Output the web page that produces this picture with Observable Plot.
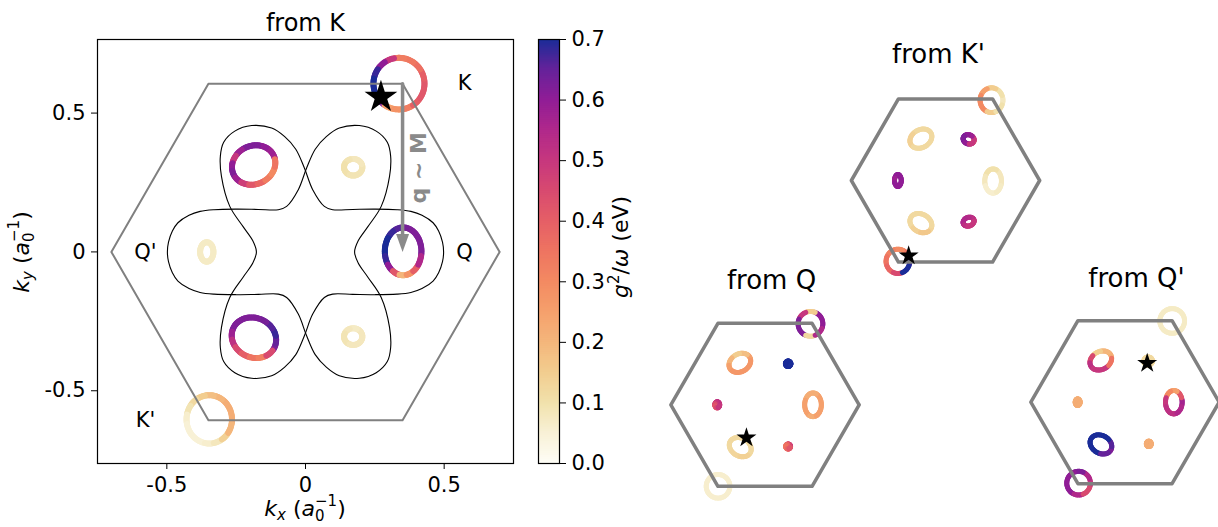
<!DOCTYPE html>
<html><head><meta charset="utf-8">
<script src="https://cdn.jsdelivr.net/npm/d3@7"></script>
<script src="https://cdn.jsdelivr.net/npm/@observablehq/plot@0.6"></script>
<style>
body{margin:0;background:#fff;}
#fig{position:relative;width:1218px;height:527px;overflow:hidden;font-family:"DejaVu Sans",sans-serif;}
#fig svg{position:absolute;}
</style></head><body><div id="fig"></div>
<script>
// ---------------- data ----------------
const hsPoints = [
  {name: "K", kx: 0.35, ky: 0.606},
  {name: "Q", kx: 0.35, ky: 0},
  {name: "Q'", kx: -0.35, ky: 0},
  {name: "K'", kx: -0.35, ky: -0.606}
];
const bzCorners = [
  {kx: 0.7, ky: 0}, {kx: 0.35, ky: 0.606}, {kx: -0.35, ky: 0.606},
  {kx: -0.7, ky: 0}, {kx: -0.35, ky: -0.606}, {kx: 0.35, ky: -0.606}, {kx: 0.7, ky: 0}
];
const axisTicks = [-0.5, 0, 0.5];
const colorTicks = [0, 0.1, 0.2, 0.3, 0.4, 0.5, 0.6, 0.7];
const arrowPath = [{from: "K", to: "Q"}];
// upper half of one three-lobed contour
const petalX = [0.498,0.494,0.48,0.46,0.42,0.38,0.33,0.25,0.17,0.098,0.068,0.026,-0.004,-0.035,-0.075,-0.122,-0.194,-0.255,-0.295,-0.307,-0.303,-0.273,-0.225,-0.19,-0.177];
const petalY = [0,0.035,0.075,0.105,0.132,0.146,0.152,0.154,0.153,0.152,0.164,0.224,0.302,0.37,0.415,0.446,0.455,0.435,0.395,0.345,0.272,0.164,0.091,0.04,0];

// rings: centre, semi-axes, tilt (deg), coupling values g^2/w at equal angles (ccw from +kx)
const ringsFromK = [
  {cx: 0.337, cy: 0.606, rx: 0.092, ry: 0.093, rot: 0, vals: [0.42,0.40,0.36,0.34,0.33,0.50,0.60,0.68,0.70,0.70,0.62,0.25,0.28,0.33,0.40,0.42]},
  {cx: -0.187, cy: 0.313, rx: 0.080, ry: 0.069, rot: 25, vals: [0.57,0.58,0.60,0.62,0.62,0.58,0.50,0.60,0.62,0.58,0.48,0.42,0.38,0.33,0.30,0.35]},
  {cx: -0.186, cy: -0.309, rx: 0.082, ry: 0.071, rot: -25, vals: [0.62,0.65,0.68,0.66,0.63,0.62,0.62,0.62,0.62,0.58,0.52,0.45,0.40,0.35,0.32,0.45]},
  {cx: 0.352, cy: 0.002, rx: 0.066, ry: 0.086, rot: 0, vals: [0.62,0.62,0.62,0.62,0.63,0.66,0.68,0.70,0.70,0.68,0.60,0.42,0.20,0.28,0.40,0.55]},
  {cx: 0.172, cy: 0.305, rx: 0.033, ry: 0.030, rot: 0, vals: [0.09,0.08,0.08,0.09,0.10,0.10,0.09,0.09]},
  {cx: 0.172, cy: -0.305, rx: 0.033, ry: 0.030, rot: 0, vals: [0.08,0.08,0.07,0.08,0.09,0.09,0.08,0.08]},
  {cx: -0.356, cy: 0, rx: 0.024, ry: 0.035, rot: 0, vals: [0.07,0.07,0.07,0.07,0.07,0.07,0.07,0.07]},
  {cx: -0.347, cy: -0.603, rx: 0.082, ry: 0.087, rot: 0, vals: [0.22,0.22,0.22,0.20,0.18,0.15,0.12,0.09,0.06,0.05,0.05,0.05,0.06,0.08,0.14,0.20]}
];
const ringsFromKp = [
  {cx: 0.342, cy: 0.597, rx: 0.085, ry: 0.092, rot: 0, vals: [0.08,0.10,0.15,0.25,0.30,0.30,0.15,0.10]},
  {cx: -0.183, cy: 0.311, rx: 0.086, ry: 0.066, rot: 30, vals: [0.12,0.12,0.12,0.14,0.14,0.12,0.12,0.12]},
  {cx: 0.172, cy: 0.306, rx: 0.042, ry: 0.034, rot: -20, vals: [0.45,0.50,0.58,0.60,0.62,0.62,0.60,0.50]},
  {cx: -0.354, cy: 0, rx: 0.025, ry: 0.044, rot: 0, vals: [0.60,0.60,0.60,0.60,0.58,0.60,0.60,0.60]},
  {cx: 0.354, cy: -0.004, rx: 0.062, ry: 0.09, rot: 0, vals: [0.08,0.08,0.10,0.10,0.08,0.06,0.06,0.07]},
  {cx: -0.183, cy: -0.317, rx: 0.086, ry: 0.066, rot: -30, vals: [0.13,0.12,0.12,0.12,0.12,0.12,0.14,0.16]},
  {cx: 0.172, cy: -0.306, rx: 0.042, ry: 0.032, rot: 20, vals: [0.50,0.52,0.54,0.55,0.55,0.52,0.50,0.50]},
  {cx: -0.354, cy: -0.601, rx: 0.088, ry: 0.09, rot: 0, vals: [0.68,0.35,0.30,0.32,0.35,0.38,0.45,0.70]}
];
const ringsFromQ = [
  {cx: 0.338, cy: 0.602, rx: 0.092, ry: 0.092, rot: 0, vals: [0.60,0.60,0.15,0.50,0.62,0.62,0.12,0.55]},
  {cx: -0.187, cy: 0.312, rx: 0.085, ry: 0.066, rot: 30, vals: [0.25,0.18,0.15,0.20,0.25,0.27,0.27,0.27]},
  {cx: 0.172, cy: 0.305, rx: 0.02, ry: 0.02, rot: 0, vals: [0.70,0.70,0.70,0.70,0.70,0.70,0.70,0.70]},
  {cx: -0.355, cy: 0, rx: 0.018, ry: 0.022, rot: 0, vals: [0.50,0.50,0.52,0.50,0.45,0.42,0.45,0.50]},
  {cx: 0.357, cy: 0, rx: 0.062, ry: 0.088, rot: 0, vals: [0.25,0.25,0.22,0.22,0.25,0.25,0.22,0.25]},
  {cx: -0.184, cy: -0.315, rx: 0.086, ry: 0.066, rot: -30, vals: [0.12,0.12,0.12,0.12,0.12,0.12,0.13,0.14]},
  {cx: 0.172, cy: -0.31, rx: 0.018, ry: 0.018, rot: 0, vals: [0.45,0.48,0.45,0.38,0.35,0.35,0.38,0.42]},
  {cx: -0.349, cy: -0.606, rx: 0.088, ry: 0.088, rot: 0, vals: [0.06,0.06,0.06,0.06,0.06,0.06,0.06,0.06]}
];
const ringsFromQp = [
  {cx: 0.351, cy: 0.604, rx: 0.092, ry: 0.092, rot: 0, vals: [0.07,0.07,0.07,0.07,0.07,0.07,0.07,0.07]},
  {cx: -0.18, cy: 0.31, rx: 0.085, ry: 0.066, rot: 30, vals: [0.22,0.20,0.15,0.45,0.52,0.50,0.50,0.35]},
  {cx: 0.172, cy: 0.306, rx: 0.032, ry: 0.03, rot: 0, vals: [0.12,0.12,0.12,0.12,0.12,0.12,0.12,0.12]},
  {cx: -0.352, cy: 0, rx: 0.018, ry: 0.024, rot: 0, vals: [0.22,0.22,0.22,0.22,0.22,0.22,0.22,0.22]},
  {cx: 0.363, cy: 0, rx: 0.062, ry: 0.087, rot: 0, vals: [0.57,0.42,0.25,0.30,0.50,0.52,0.52,0.55]},
  {cx: -0.179, cy: -0.314, rx: 0.085, ry: 0.066, rot: -30, vals: [0.62,0.66,0.70,0.70,0.70,0.70,0.70,0.65]},
  {cx: 0.177, cy: -0.31, rx: 0.018, ry: 0.02, rot: 0, vals: [0.22,0.22,0.22,0.22,0.22,0.22,0.22,0.22]},
  {cx: -0.345, cy: -0.602, rx: 0.088, ry: 0.088, rot: 0, vals: [0.50,0.55,0.62,0.60,0.60,0.60,0.55,0.45]}
];
const starsFromK = [{kx: 0.272, ky: 0.558}];
const starsFromKp = [{kx: -0.274, ky: -0.56}];
const starsFromQ = [{kx: -0.138, ky: -0.245}];
const starsFromQp = [{kx: 0.165, ky: 0.29}];

// ---------------- styles ----------------
const colorStopValues = [0,0.05,0.1,0.15,0.2,0.25,0.3,0.35,0.4,0.45,0.5,0.55,0.6,0.65,0.7];
const colorStopColors = ["#fefdf6","#f8f1d6","#f1e1ac","#f2cd8f","#f4b67b","#f5a06c","#f38a62","#ee7461","#e55f66","#d84a70","#c6377e","#b0288b","#901d96","#65229a","#1a2c98"];
const colorOpts = {type: "linear", domain: colorStopValues, range: colorStopColors, interpolate: "rgb", clamp: true};
const FONT = "DejaVu Sans";
const baseStyle = {fontFamily: FONT, fontSize: "21px", background: "transparent", overflow: "visible", color: "black"};

// ---------------- helpers ----------------
const ptByName = Object.fromEntries(hsPoints.map(d => [d.name, d]));
function ringSegments(rings, sub) {
  const segs = [];
  rings.forEach(r => {
    const n = r.vals.length, rot = r.rot * Math.PI / 180;
    const pt = t => {
      const a = 2 * Math.PI * t / n;
      const ex = r.rx * Math.cos(a), ey = r.ry * Math.sin(a);
      return [r.cx + ex * Math.cos(rot) - ey * Math.sin(rot), r.cy + ex * Math.sin(rot) + ey * Math.cos(rot)];
    };
    for (let i = 0; i < n; i++) for (let s = 0; s < sub; s++) {
      const p = pt(i - 0.5 + s / sub), q = pt(i - 0.5 + (s + 1) / sub);
      segs.push({x1: p[0], y1: p[1], x2: q[0], y2: q[1], v: r.vals[i]});
    }
  });
  return segs;
}
const petals = [];
{
  const half = petalX.map((x, i) => [x, petalY[i]]);
  const full = half.concat(half.slice(1, -1).reverse().map(([x, y]) => [x, -y]));
  full.forEach(([x, y]) => petals.push({id: "A", x, y}));
  full.forEach(([x, y]) => petals.push({id: "B", x: -x, y}));
}
const arrowData = arrowPath.map(d => ({x1: ptByName[d.from].kx, y1: ptByName[d.from].ky, x2: ptByName[d.to].kx, y2: ptByName[d.to].ky}));
const headSymbol = {draw(ctx) { ctx.moveTo(0, 0); ctx.lineTo(-6.5, -18); ctx.lineTo(6.5, -18); ctx.closePath(); }};

function richText(svg, x, y, parts, rotate = 0, fontSize = 22) {
  const t = d3.select(svg).append("text")
    .attr("transform", `translate(${x},${y}) rotate(${rotate})`)
    .attr("text-anchor", "middle").attr("font-family", FONT).attr("font-size", fontSize).attr("fill", "black");
  for (const p of parts) {
    const ts = t.append("tspan").text(p.t);
    if (p.it) ts.attr("font-style", "italic");
    if (p.size) ts.attr("font-size", p.size);
    if (p.dy) ts.attr("dy", p.dy);
    if (p.dx) ts.attr("dx", p.dx);
  }
}
const fig = document.getElementById("fig");
function place(svg, left, top) { svg.style.left = left + "px"; svg.style.top = top + "px"; fig.appendChild(svg); }

// ---------------- main panel ----------------
const fmtTick = d => d === 0 ? "0" : String(d);
const main = Plot.plot({
  width: 530, height: 527,
  marginLeft: 97, marginRight: 17, marginTop: 39, marginBottom: 64,
  x: {domain: [-0.75, 0.75]},
  y: {domain: [-0.762, 0.765]},
  color: colorOpts,
  style: baseStyle,
  marks: [
    Plot.axisX({ticks: axisTicks, tickFormat: fmtTick, tickSize: 6, tickPadding: 8, fontSize: 21, label: null}),
    Plot.axisY({ticks: axisTicks, tickFormat: fmtTick, tickSize: 6, tickPadding: 6, fontSize: 21, label: null}),
    Plot.link(ringSegments(ringsFromK, 4), {x1: "x1", y1: "y1", x2: "x2", y2: "y2", stroke: "v", strokeWidth: 6, strokeLinecap: "round"}),
    Plot.line(bzCorners, {x: "kx", y: "ky", stroke: "#808080", strokeWidth: 2}),
    Plot.line(petals, {x: "x", y: "y", z: "id", curve: "catmull-rom-closed", stroke: "black", strokeWidth: 1.1}),
    Plot.arrow(arrowData, {x1: "x1", y1: "y1", x2: "x2", y2: "y2", stroke: "#8a8a8a", strokeWidth: 3.5, headLength: 0, insetEnd: 14}),
    Plot.dot(arrowData, {x: "x2", y: "y2", symbol: headSymbol, fill: "#8a8a8a", stroke: null}),
    Plot.text(arrowData, {x: "x1", y: d => (d.y1 + d.y2) / 2, text: () => "q ~ M", rotate: -90, dx: 16, fill: "#8a8a8a", fontWeight: "bold", fontSize: 22}),
    Plot.dot(starsFromK, {x: "kx", y: "ky", symbol: "star", r: 10.3, fill: "black", stroke: null}),
    Plot.text(hsPoints.filter(d => d.kx > 0), {x: "kx", y: "ky", text: "name", dx: 62, fontSize: 21}),
    Plot.text(hsPoints.filter(d => d.kx < 0), {x: "kx", y: "ky", text: "name", dx: -63, fontSize: 21}),
    Plot.text(["from K"], {text: d => d, frameAnchor: "top", textAnchor: "middle", lineAnchor: "bottom", dy: -9, fontSize: 24}),
    Plot.frame({stroke: "black", strokeWidth: 1.2})
  ]
});
richText(main, 305, 516, [{t: "k", it: 1}, {t: "x", it: 1, size: 15, dy: 4}, {t: " (", dy: -4}, {t: "a", it: 1}, {t: "0", size: 15, dy: 5}, {t: "−1", size: 15, dx: -9.5, dy: -15}, {t: ")", dy: 10}]);
richText(main, 29, 252, [{t: "k", it: 1}, {t: "y", it: 1, size: 15, dy: 4}, {t: " (", dy: -4}, {t: "a", it: 1}, {t: "0", size: 15, dy: 5}, {t: "−1", size: 15, dx: -9.5, dy: -15}, {t: ")", dy: 10}], -90);
place(main, 0, 0);

// ---------------- colour bar ----------------
const N = 210;
const cMin = colorTicks[0], cMax = colorTicks[colorTicks.length - 1];
const step = (cMax - cMin) / N;
const barCells = d3.range(N).map(i => ({y1: cMin + i * step}));
const cbar = Plot.plot({
  width: 160, height: 527,
  marginLeft: 18, marginRight: 121, marginTop: 39, marginBottom: 64,
  x: {domain: [0, 1], axis: null},
  y: {domain: [cMin, cMax], axis: null},
  color: colorOpts,
  style: baseStyle,
  marks: [
    Plot.rect(barCells, {x1: 0, x2: 1, y1: "y1", y2: d => Math.min(cMax, d.y1 + step * 1.6), fill: d => d.y1 + step / 2}),
    Plot.axisY({anchor: "right", ticks: colorTicks, tickFormat: d3.format(".1f"), tickSize: 6, tickPadding: 6, fontSize: 21, label: null}),
    Plot.frame({stroke: "black", strokeWidth: 1.2})
  ]
});
richText(cbar, 108, 247, [{t: "g", it: 1}, {t: "2", size: 15, dy: -9}, {t: "/", dy: 9}, {t: "ω", it: 1}, {t: " (eV)"}], -90);
place(cbar, 520, 0);

// ---------------- insets ----------------
function inset({rings, stars, title, left, top, width, height, cx, cy, tx, ty}) {
  const k = 134.5;
  const svg = Plot.plot({
    width, height, margin: 0,
    x: {domain: [-cx / k, (width - cx) / k], range: [0, width], axis: null},
    y: {domain: [-(height - cy) / k, cy / k], range: [height, 0], axis: null},
    color: colorOpts,
    style: baseStyle,
    marks: [
      Plot.link(ringSegments(rings, 5), {x1: "x1", y1: "y1", x2: "x2", y2: "y2", stroke: "v", strokeWidth: 5, strokeLinecap: "round"}),
      Plot.line(bzCorners, {x: "kx", y: "ky", stroke: "#808080", strokeWidth: 3.5}),
      Plot.dot(stars, {x: "kx", y: "ky", symbol: "star", r: 6.3, fill: "black", stroke: null}),
      Plot.text([title], {text: d => d, frameAnchor: "top-left", textAnchor: "middle", dx: tx, dy: ty, lineAnchor: "bottom", fontSize: 26})
    ]
  });
  place(svg, left, top);
}
inset({rings: ringsFromKp, stars: starsFromKp, title: "from K'", left: 815, top: 20, width: 260, height: 290, cx: 130, cy: 160, tx: 123, ty: 42});
inset({rings: ringsFromQ, stars: starsFromQ, title: "from Q", left: 640, top: 250, width: 250, height: 277, cx: 124.5, cy: 154.3, tx: 131, ty: 38});
inset({rings: ringsFromQp, stars: starsFromQp, title: "from Q'", left: 1000, top: 250, width: 218, height: 277, cx: 124.5, cy: 151.7, tx: 136, ty: 36});
</script></body></html>
